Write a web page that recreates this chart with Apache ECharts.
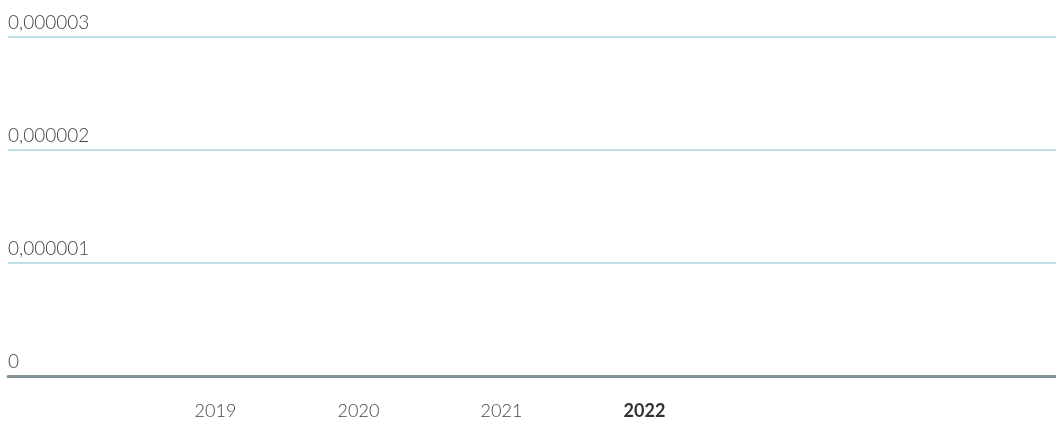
<!DOCTYPE html>
<html>
<head>
<meta charset="utf-8">
<script src="https://cdn.jsdelivr.net/npm/echarts@6/dist/echarts.min.js"></script>
<style>
  html, body { margin: 0; padding: 0; background: #fff; }
  #main { width: 1056px; height: 422px; }
</style>
</head>
<body>
<div id="main"></div>
<script>
// data: nothing visible above zero
var years = ['2019', '2020', '2021', '2022'];
var values = [0, 0, 0, 0];
var highlightYear = '2022';
var yMax = 0.000003;
var yStep = 0.000001;

var chart = echarts.init(document.getElementById('main'));

function fmtNum(v) {
    if (v === 0) return '0';
    return v.toFixed(6).replace('.', ',');
}

var option = {
    backgroundColor: '#ffffff',
    animation: false,
    textStyle: { fontFamily: 'Lato' },
    grid: [
        { left: 8, right: 0, top: 37, bottom: 46 },
        { left: 144, right: 340, top: 37, bottom: 46 }
    ],
    xAxis: [{
        type: 'category',
        gridIndex: 0,
        data: years,
        axisLine: { show: true, onZero: false, lineStyle: { color: '#84939a', width: 3 } },
        axisTick: { show: false },
        axisLabel: { show: false }
    }, {
        type: 'category',
        gridIndex: 1,
        data: years,
        axisLine: { show: false },
        axisTick: { show: false },
        axisLabel: {
            margin: 26,
            fontSize: 18,
            fontWeight: 300,
            color: '#444',
            formatter: function (v) {
                return v === highlightYear ? '{b|' + v + '}' : v;
            },
            rich: {
                b: { fontSize: 18, fontWeight: 'bold', color: '#333' }
            }
        }
    }],
    yAxis: [{
        type: 'value',
        gridIndex: 0,
        min: 0,
        max: yMax,
        interval: yStep,
        axisLine: { show: false },
        axisTick: { show: false },
        splitLine: { lineStyle: { color: '#c2dfe9', width: 2 } },
        axisLabel: {
            inside: true,
            margin: 0,
            verticalAlign: 'bottom',
            padding: [0, 0, 5, 0],
            fontSize: 19,
            fontWeight: 300,
            color: '#444',
            formatter: fmtNum
        }
    }, {
        type: 'value',
        gridIndex: 1,
        min: 0,
        max: yMax,
        show: false
    }],
    series: [{
        type: 'bar',
        xAxisIndex: 1,
        yAxisIndex: 1,
        data: values,
        itemStyle: { color: '#2a7fa8' }
    }]
};

chart.setOption(option);
</script>
</body>
</html>
